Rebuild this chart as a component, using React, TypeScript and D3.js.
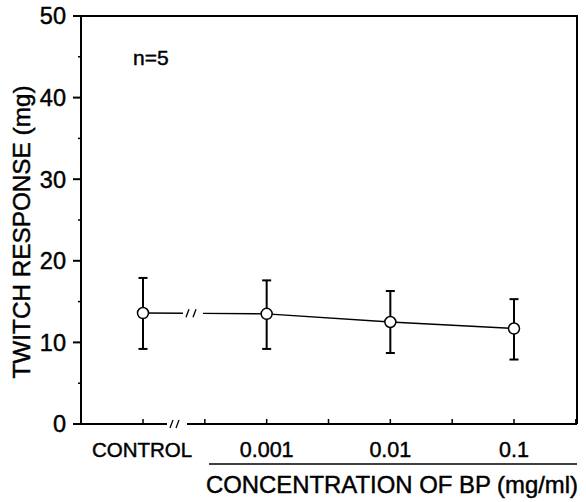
import React, { useEffect, useRef } from "react";
import * as d3 from "d3";

const categories = ["CONTROL", "0.001", "0.01", "0.1"];
const means = [13.6, 13.5, 12.5, 11.7];
const upper = [17.9, 17.6, 16.3, 15.3];
const lower = [9.2, 9.2, 8.7, 7.9];
const yTicks = [0, 10, 20, 30, 40, 50];
const yMinor = [5, 15, 25, 35, 45];

export default function App() {
  const ref = useRef<SVGSVGElement>(null);

  useEffect(() => {
    const svg = d3.select(ref.current);
    svg.selectAll("*").remove();

    const W = 586, H = 502;
    const left = 81, right = 577, top = 16, bottom = 424;
    const font = "Liberation Sans, Arial, sans-serif";

    // x: category index -> pixel
    const x = d3.scaleLinear().domain([0, 3]).range([143, 514]);
    const y = d3.scaleLinear().domain([0, 50]).range([bottom, top]);

    svg.append("rect").attr("width", W).attr("height", H).attr("fill", "#fff");

    const g = svg.append("g");
    // scanned text looks heavier than plain regular weight
    const txt = g.append("g").attr("stroke", "#000").attr("stroke-width", 0.45)
      .attr("font-family", font).attr("fill", "#000");

    // frame: left, top, right
    g.append("path")
      .attr("d", `M${left},${bottom} V${top} H${right} V${bottom}`)
      .attr("fill", "none")
      .attr("stroke", "#000")
      .attr("stroke-width", 2);

    // bottom axis with a break
    const brk = 167;
    g.append("line").attr("x1", left).attr("x2", brk).attr("y1", bottom).attr("y2", bottom)
      .attr("stroke", "#000").attr("stroke-width", 2);
    g.append("line").attr("x1", brk + 20).attr("x2", right).attr("y1", bottom).attr("y2", bottom)
      .attr("stroke", "#000").attr("stroke-width", 2);
    [0, 6].forEach(dx => {
      g.append("line")
        .attr("x1", brk + 3 + dx).attr("y1", bottom + 4)
        .attr("x2", brk + 6 + dx).attr("y2", bottom - 4)
        .attr("stroke", "#000").attr("stroke-width", 1.3);
    });

    // x ticks (major + minor), pointing up
    const xt = [0, 0.5, 1, 1.5, 2, 2.5, 3, 3.5];
    g.selectAll(".xt").data(xt).enter().append("line")
      .attr("x1", d => x(d)).attr("x2", d => x(d))
      .attr("y1", bottom).attr("y2", bottom - 5)
      .attr("stroke", "#000").attr("stroke-width", 1.5);

    // y ticks
    g.selectAll(".yt").data(yTicks).enter().append("line")
      .attr("x1", left - 8).attr("x2", left)
      .attr("y1", d => y(d)).attr("y2", d => y(d))
      .attr("stroke", "#000").attr("stroke-width", 2);
    g.selectAll(".ym").data(yMinor).enter().append("line")
      .attr("x1", left - 3).attr("x2", left)
      .attr("y1", d => y(d)).attr("y2", d => y(d))
      .attr("stroke", "#000").attr("stroke-width", 1.5);
    txt.selectAll(".yl").data(yTicks).enter().append("text")
      .attr("x", 66).attr("y", d => y(d)).attr("dy", "0.36em")
      .attr("text-anchor", "end")
      .attr("font-size", 23.5)
      .text(d => d);

    // x labels
    txt.selectAll(".xl").data(categories).enter().append("text")
      .attr("x", (d, i) => x(i) - (i === 0 ? 1 : 0)).attr("y", 457)
      .attr("text-anchor", "middle")
      .attr("font-size", (d, i) => (i === 0 ? 20.5 : 21.5))
      .text(d => d);

    g.append("line").attr("x1", 209).attr("x2", right).attr("y1", 464).attr("y2", 464)
      .attr("stroke", "#000").attr("stroke-width", 1.5);

    txt.append("text")
      .attr("x", 392).attr("y", 493).attr("text-anchor", "middle")
      .attr("font-size", 24)
      .attr("textLength", 372).attr("lengthAdjust", "spacingAndGlyphs")
      .text("CONCENTRATION OF BP (mg/ml)");

    txt.append("text")
      .attr("transform", "translate(30,232) rotate(-90)")
      .attr("text-anchor", "middle")
      .attr("font-size", 24)
      .attr("textLength", 293).attr("lengthAdjust", "spacingAndGlyphs")
      .text("TWITCH RESPONSE (mg)");

    txt.append("text")
      .attr("x", 133).attr("y", 65)
      .attr("font-size", 21)
      .text("n=5");

    // error bars
    const eb = g.selectAll(".eb").data(means).enter().append("g");
    eb.append("line")
      .attr("x1", (d, i) => x(i)).attr("x2", (d, i) => x(i))
      .attr("y1", (d, i) => y(upper[i])).attr("y2", (d, i) => y(lower[i]))
      .attr("stroke", "#000").attr("stroke-width", 2);
    [upper, lower].forEach(arr => {
      eb.append("line")
        .attr("x1", (d, i) => x(i) - 4.5).attr("x2", (d, i) => x(i) + 4.5)
        .attr("y1", (d, i) => y(arr[i])).attr("y2", (d, i) => y(arr[i]))
        .attr("stroke", "#000").attr("stroke-width", 2);
    });

    // connecting line, broken between control and 0.001
    const line = d3.line<number>().x((d, i) => x(i + 1)).y(d => y(d));
    g.append("path").datum(means.slice(1)).attr("d", line)
      .attr("fill", "none").attr("stroke", "#000").attr("stroke-width", 1.4);
    const yc = y(means[0]), y1 = y(means[1]);
    const mid = (t: number) => yc + (y1 - yc) * (t - x(0)) / (x(1) - x(0));
    g.append("line").attr("x1", x(0)).attr("y1", yc).attr("x2", 183).attr("y2", mid(183))
      .attr("stroke", "#000").attr("stroke-width", 1.4);
    g.append("line").attr("x1", 203).attr("y1", mid(203)).attr("x2", x(1)).attr("y2", y1)
      .attr("stroke", "#000").attr("stroke-width", 1.4);
    [0, 7].forEach(dx => {
      g.append("line")
        .attr("x1", 186 + dx).attr("y1", mid(190) + 4)
        .attr("x2", 189 + dx).attr("y2", mid(190) - 4)
        .attr("stroke", "#000").attr("stroke-width", 1.3);
    });

    // points
    g.selectAll(".pt").data(means).enter().append("circle")
      .attr("cx", (d, i) => x(i)).attr("cy", d => y(d)).attr("r", 5.5)
      .attr("fill", "#fff").attr("stroke", "#000").attr("stroke-width", 1.5);
  }, []);

  return (
    <svg ref={ref} width={586} height={502}
      style={{ position: "absolute", left: 0, top: 0 }} />
  );
}
